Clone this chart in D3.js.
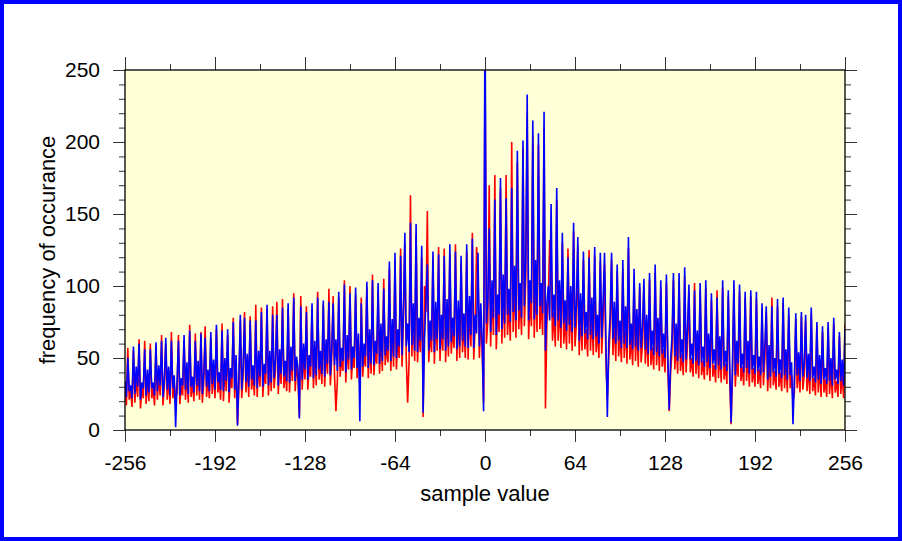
<!DOCTYPE html>
<html>
<head>
<meta charset="utf-8">
<script src="https://cdn.jsdelivr.net/npm/d3@7/dist/d3.min.js"></script>
<style>
  html, body { margin: 0; padding: 0; background: #fff; }
  svg { display: block; }
  text { font-family: "Liberation Sans", Arial, Helvetica, sans-serif; fill: #000; }
</style>
</head>
<body>
<svg id="chart" width="902" height="541"></svg>
<script>
// ---- data ----
const xMajorTicks = [-256, -192, -128, -64, 0, 64, 128, 192, 256];
const xMinorTicks = [-224, -160, -96, -32, 32, 96, 160, 224];
const yMajorTicks = [0, 50, 100, 150, 200, 250];
const yMinorTicks = [10, 20, 30, 40, 60, 70, 80, 90, 110, 120, 130, 140, 160, 170, 180, 190, 210, 220, 230, 240];
const sampleStart = -256;   // first sample value, one count per integer value

// red series: counts for sample values -256 .. 256
const redCounts = [
  30,17,57,21,28,16,55,19,37,23,63,15,29,22,62,18,
  36,20,60,22,29,17,58,21,38,24,66,17,31,60,21,37,
  18,68,22,33,22,26,66,18,31,24,62,21,40,19,73,23,
  33,20,67,24,42,21,68,19,33,72,23,36,22,64,25,43,
  22,70,26,35,21,74,20,44,27,66,19,37,29,78,22,46,
  4,30,76,22,38,82,26,47,23,79,28,39,24,87,23,49,
  30,85,23,40,32,84,24,48,27,86,29,41,89,25,49,32,
  91,29,42,27,84,26,51,34,95,27,45,36,9,93,28,53,
  35,86,28,46,37,84,29,55,31,96,35,48,32,87,30,57,
  39,98,31,50,93,38,13,34,92,37,50,41,104,33,59,42,
  100,35,51,43,94,36,60,30,92,37,53,44,99,36,63,39,
  108,38,55,46,97,39,67,41,105,45,58,47,112,41,70,44,
  118,42,63,50,126,44,77,130,50,19,47,163,51,80,48,136,
  47,70,54,120,9,100,82,152,47,68,54,118,46,82,55,127,
  48,72,55,126,47,84,51,122,53,70,57,129,48,83,50,116,
  54,74,50,124,49,87,58,137,49,72,127,110,50,80,54,19,
  260,60,76,170,58,96,66,177,56,86,68,168,60,98,64,177,
  66,88,62,200,68,104,64,186,70,92,66,196,72,106,218,63,
  92,72,205,64,104,68,198,70,90,66,210,15,74,90,132,122,
  62,82,58,160,62,90,57,130,60,78,56,126,60,88,55,138,
  58,74,128,52,84,55,118,56,70,51,125,55,80,52,121,54,
  70,50,117,53,78,115,48,22,50,70,118,52,77,48,110,51,
  66,47,112,50,74,46,126,49,64,45,106,48,73,44,99,47,
  60,100,46,69,44,104,45,58,42,109,45,67,41,99,44,56,
  40,102,43,13,40,55,104,42,62,39,103,41,53,38,107,40,
  59,96,40,50,37,102,39,58,36,97,38,48,35,99,38,56,
  34,90,37,45,33,97,36,54,33,99,35,46,32,93,36,4,
  38,99,30,51,37,96,34,44,31,92,34,52,30,93,33,43,
  30,91,32,42,29,84,31,49,82,27,50,29,92,31,41,28,
  86,30,40,27,88,29,46,26,80,29,38,20,26,77,29,45,
  26,79,28,38,76,27,44,25,81,27,36,24,72,26,43,23,
  68,26,35,23,71,25,41,22,74,26,34,23,65,25,40,22,
  74
];

// blue series: counts for sample values -256 .. 256
const blueCounts = [
  34,23,50,27,31,22,58,25,44,30,60,21,33,29,56,24,
  42,26,56,29,33,24,61,27,45,31,62,23,35,64,28,44,
  24,62,29,38,2,33,62,24,36,31,66,28,47,25,69,30,
  37,26,62,31,48,27,67,25,39,64,30,42,27,68,32,49,
  28,73,33,40,28,69,27,50,34,70,26,43,36,75,28,52,
  3,37,80,28,44,78,33,53,30,76,35,45,31,76,29,55,
  37,82,30,46,39,87,31,55,33,80,36,48,80,31,56,39,
  85,37,48,34,88,33,58,41,92,34,51,43,8,86,35,60,
  42,82,35,52,44,88,36,62,38,92,42,55,39,90,37,63,
  46,89,38,56,88,45,63,41,96,44,57,48,101,40,66,49,
  95,42,58,50,99,43,67,6,88,44,60,51,103,43,70,46,
  104,45,62,53,102,46,74,48,98,52,65,55,117,48,77,51,
  123,50,70,58,121,52,84,137,58,74,54,144,59,88,55,143,
  54,78,62,128,12,63,90,115,55,76,62,124,54,89,63,122,
  56,80,63,121,55,91,58,129,61,78,65,124,56,90,58,121,
  62,81,58,129,57,93,66,133,57,80,67,123,58,88,62,13,
  300,74,90,140,68,104,78,160,66,94,80,175,70,108,74,161,
  80,98,75,168,82,114,76,194,83,102,78,201,86,118,233,76,
  104,88,215,77,118,80,206,86,102,81,221,55,88,100,76,157,
  78,94,72,168,76,104,71,137,74,90,69,120,73,100,68,144,
  71,86,134,62,95,65,124,67,82,63,120,66,92,63,127,65,
  80,60,123,64,90,123,59,9,61,80,123,63,89,60,115,62,
  76,57,118,60,86,57,134,59,74,56,112,58,84,55,102,57,
  71,105,56,80,53,109,55,69,52,115,54,78,51,104,53,67,
  50,108,52,14,49,65,109,51,74,48,109,50,63,47,113,49,
  70,101,49,60,46,97,48,69,45,102,47,58,44,104,47,67,
  43,95,46,56,42,92,45,65,42,104,44,55,41,97,45,5,
  47,104,38,62,46,101,43,53,40,96,43,62,39,97,42,52,
  39,96,41,51,38,88,40,58,86,35,59,37,86,40,50,37,
  91,39,49,36,92,38,56,35,85,38,47,4,35,81,38,54,
  34,82,37,46,80,36,53,34,85,36,44,33,75,35,52,32,
  72,35,43,32,75,34,50,31,78,35,42,32,68,34,49,31,
  70
];

const xLabel = "sample value";
const yLabel = "frequency of occurance";

// ---- layout ----
const W = 902, H = 541;
const plot = { left: 125, right: 845, top: 70, bottom: 430 };

const svg = d3.select("#chart");

svg.append("rect").attr("x", 0).attr("y", 0).attr("width", W).attr("height", H).attr("fill", "#ffffff");
svg.append("rect").attr("x", 2).attr("y", 2).attr("width", W - 4).attr("height", H - 4)
  .attr("fill", "none").attr("stroke", "#0000ff").attr("stroke-width", 4);

const x = d3.scaleLinear().domain([-256, 256]).range([plot.left, plot.right]);
const y = d3.scaleLinear().domain([0, 250]).range([plot.bottom, plot.top]);

svg.append("rect")
  .attr("x", plot.left).attr("y", plot.top)
  .attr("width", plot.right - plot.left).attr("height", plot.bottom - plot.top)
  .attr("fill", "#ffffd8");

svg.append("clipPath").attr("id", "clip").append("rect")
  .attr("x", plot.left).attr("y", plot.top)
  .attr("width", plot.right - plot.left).attr("height", plot.bottom - plot.top);

const line = d3.line()
  .x((d, i) => x(sampleStart + i))
  .y(d => y(d));

const g = svg.append("g").attr("clip-path", "url(#clip)");
g.append("path").datum(redCounts).attr("d", line)
  .attr("fill", "none").attr("stroke", "#ff0000").attr("stroke-width", 1.6).attr("stroke-linejoin", "miter");
g.append("path").datum(blueCounts).attr("d", line)
  .attr("fill", "none").attr("stroke", "#0000ff").attr("stroke-width", 1.6).attr("stroke-linejoin", "miter");

// ---- axes ----
function styleAxis(sel) {
  sel.select(".domain").remove();
  sel.selectAll(".tick line").attr("stroke", "#333").attr("stroke-width", 1);
}
const plainFormat = d => String(d);
const fs = 21;

const bottomMajor = svg.append("g").attr("transform", `translate(0,${plot.bottom})`)
  .call(d3.axisBottom(x).tickValues(xMajorTicks).tickSize(12).tickPadding(13).tickFormat(plainFormat));
styleAxis(bottomMajor);
bottomMajor.selectAll("text").attr("font-size", fs).style("font-family", '"Liberation Sans", Arial, sans-serif');

const bottomMinor = svg.append("g").attr("transform", `translate(0,${plot.bottom})`)
  .call(d3.axisBottom(x).tickValues(xMinorTicks).tickSize(6).tickFormat(""));
styleAxis(bottomMinor);

const topMajor = svg.append("g").attr("transform", `translate(0,${plot.top})`)
  .call(d3.axisTop(x).tickValues(xMajorTicks).tickSize(13).tickFormat(""));
styleAxis(topMajor);
const topMinor = svg.append("g").attr("transform", `translate(0,${plot.top})`)
  .call(d3.axisTop(x).tickValues(xMinorTicks).tickSize(6).tickFormat(""));
styleAxis(topMinor);

const leftMajor = svg.append("g").attr("transform", `translate(${plot.left},0)`)
  .call(d3.axisLeft(y).tickValues(yMajorTicks).tickSize(12).tickPadding(13).tickFormat(plainFormat));
styleAxis(leftMajor);
leftMajor.selectAll("text").attr("font-size", fs).style("font-family", '"Liberation Sans", Arial, sans-serif');

const leftMinor = svg.append("g").attr("transform", `translate(${plot.left},0)`)
  .call(d3.axisLeft(y).tickValues(yMinorTicks).tickSize(6).tickFormat(""));
styleAxis(leftMinor);

const rightMajor = svg.append("g").attr("transform", `translate(${plot.right},0)`)
  .call(d3.axisRight(y).tickValues(yMajorTicks).tickSize(12).tickFormat(""));
styleAxis(rightMajor);
const rightMinor = svg.append("g").attr("transform", `translate(${plot.right},0)`)
  .call(d3.axisRight(y).tickValues(yMinorTicks).tickSize(6).tickFormat(""));
styleAxis(rightMinor);

// frame
svg.append("rect")
  .attr("x", plot.left).attr("y", plot.top)
  .attr("width", plot.right - plot.left).attr("height", plot.bottom - plot.top)
  .attr("fill", "none").attr("stroke", "#000").attr("stroke-width", 1.3);

// titles
svg.append("text")
  .attr("x", (plot.left + plot.right) / 2).attr("y", 501)
  .attr("text-anchor", "middle").attr("font-size", 22)
  .text(xLabel);

svg.append("text")
  .attr("transform", `translate(55,${(plot.top + plot.bottom) / 2}) rotate(-90)`)
  .attr("text-anchor", "middle").attr("font-size", 22)
  .text(yLabel);
</script>
</body>
</html>
